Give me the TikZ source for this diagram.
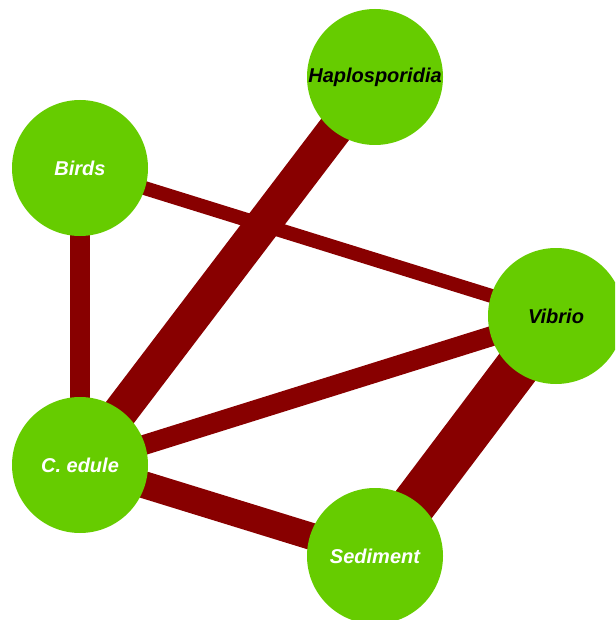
\documentclass[tikz,border=0pt]{standalone}
\usepackage{fontspec}
\setmainfont{Liberation Sans}
\usetikzlibrary{backgrounds}
\definecolor{leaf}{RGB}{102,204,0}
\definecolor{blood}{RGB}{136,0,0}
\begin{document}
\begin{tikzpicture}[x=1pt, y=-1pt, main/.style = {circle, fill=leaf, minimum size=136pt, inner sep=0pt, font=\fontsize{20}{24}\selectfont\bfseries\itshape}, link/.style = {draw=blood}]
            \useasboundingbox (0,0) rectangle (615,620);
            \clip (0,0) rectangle (615,620);
            \node[main, text=white] (1) at (80,168) {Birds};
            \node[main] (2) at (375,77) {Haplosporidia};
            \node[main] (3) at (556,316) {Vibrio};
            \node[main, text=white] (4) at (80,465) {C. edule};
            \node[main, text=white] (5) at (375,556) {Sediment};
            \begin{pgfonlayer}{background}
            \draw[link, line width=20pt] (1.center) -- (4.center);
            \draw[link, line width=14pt] (1.center) -- (3.center);
            \draw[link, line width=35pt] (2.center) -- (4.center);
            \draw[link, line width=20pt] (4.center) -- (3.center);
            \draw[link, line width=27pt] (4.center) -- (5.center);
            \draw[link, line width=45pt] (3.center) -- (5.center);
            \end{pgfonlayer}
        \end{tikzpicture}
\end{document}
